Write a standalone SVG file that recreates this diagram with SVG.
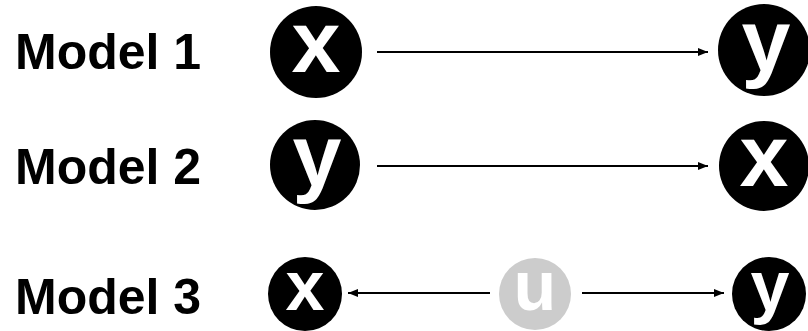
<svg xmlns="http://www.w3.org/2000/svg" width="808" height="331" viewBox="0 0 808 331">
  <style>
    .label { font-family: "Liberation Sans", Arial, sans-serif; font-weight: bold; font-size: 50px; fill: #000; }
    .node { fill: #000; }
    .latent { fill: #cccccc; }
    .var { font-family: "Liberation Sans", Arial, sans-serif; font-weight: bold; fill: #fff; text-anchor: middle; }
    .big { font-size: 88px; }
    .small { font-size: 70px; }
    .edge { stroke: #000; stroke-width: 2; fill: none; marker-end: url(#head); }
  </style>
  <defs>
    <marker id="head" viewBox="0 0 10 8" refX="10" refY="4" markerWidth="10" markerHeight="8" markerUnits="userSpaceOnUse" orient="auto">
      <path d="M0,0 L10,4 L0,8 Z" fill="#000"/>
    </marker>
  </defs>
  <rect width="808" height="331" fill="#fff"/>

  <text class="label" x="15" y="69">Model 1</text>
  <text class="label" x="15" y="184">Model 2</text>
  <text class="label" x="15" y="314">Model 3</text>

  <g id="connectors">
    <line class="edge" x1="377" y1="52" x2="708" y2="52"/>
    <line class="edge" x1="377" y1="166" x2="708" y2="166"/>
    <line class="edge" x1="490" y1="293" x2="348" y2="293"/>
    <line class="edge" x1="582" y1="293" x2="724" y2="293"/>
  </g>

  <g id="m1-x">
    <circle class="node" cx="316" cy="52" r="46"/>
    <text class="var big" x="316" y="72">x</text>
  </g>
  <g id="m1-y">
    <circle class="node" cx="764" cy="50" r="46"/>
    <text class="var big" x="766" y="71">y</text>
  </g>
  <g id="m2-y">
    <circle class="node" cx="315" cy="165" r="45"/>
    <text class="var big" x="317" y="186">y</text>
  </g>
  <g id="m2-x">
    <circle class="node" cx="764" cy="166" r="45"/>
    <text class="var big" x="764" y="186">x</text>
  </g>
  <g id="m3-x">
    <circle class="node" cx="305" cy="294" r="37"/>
    <text class="var small" x="305" y="310">x</text>
  </g>
  <g id="m3-u">
    <circle class="latent" cx="535" cy="294" r="36"/>
    <text class="var small" x="535" y="310">u</text>
  </g>
  <g id="m3-y">
    <circle class="node" cx="769" cy="294" r="37"/>
    <text class="var small" x="770" y="310">y</text>
  </g>
</svg>
